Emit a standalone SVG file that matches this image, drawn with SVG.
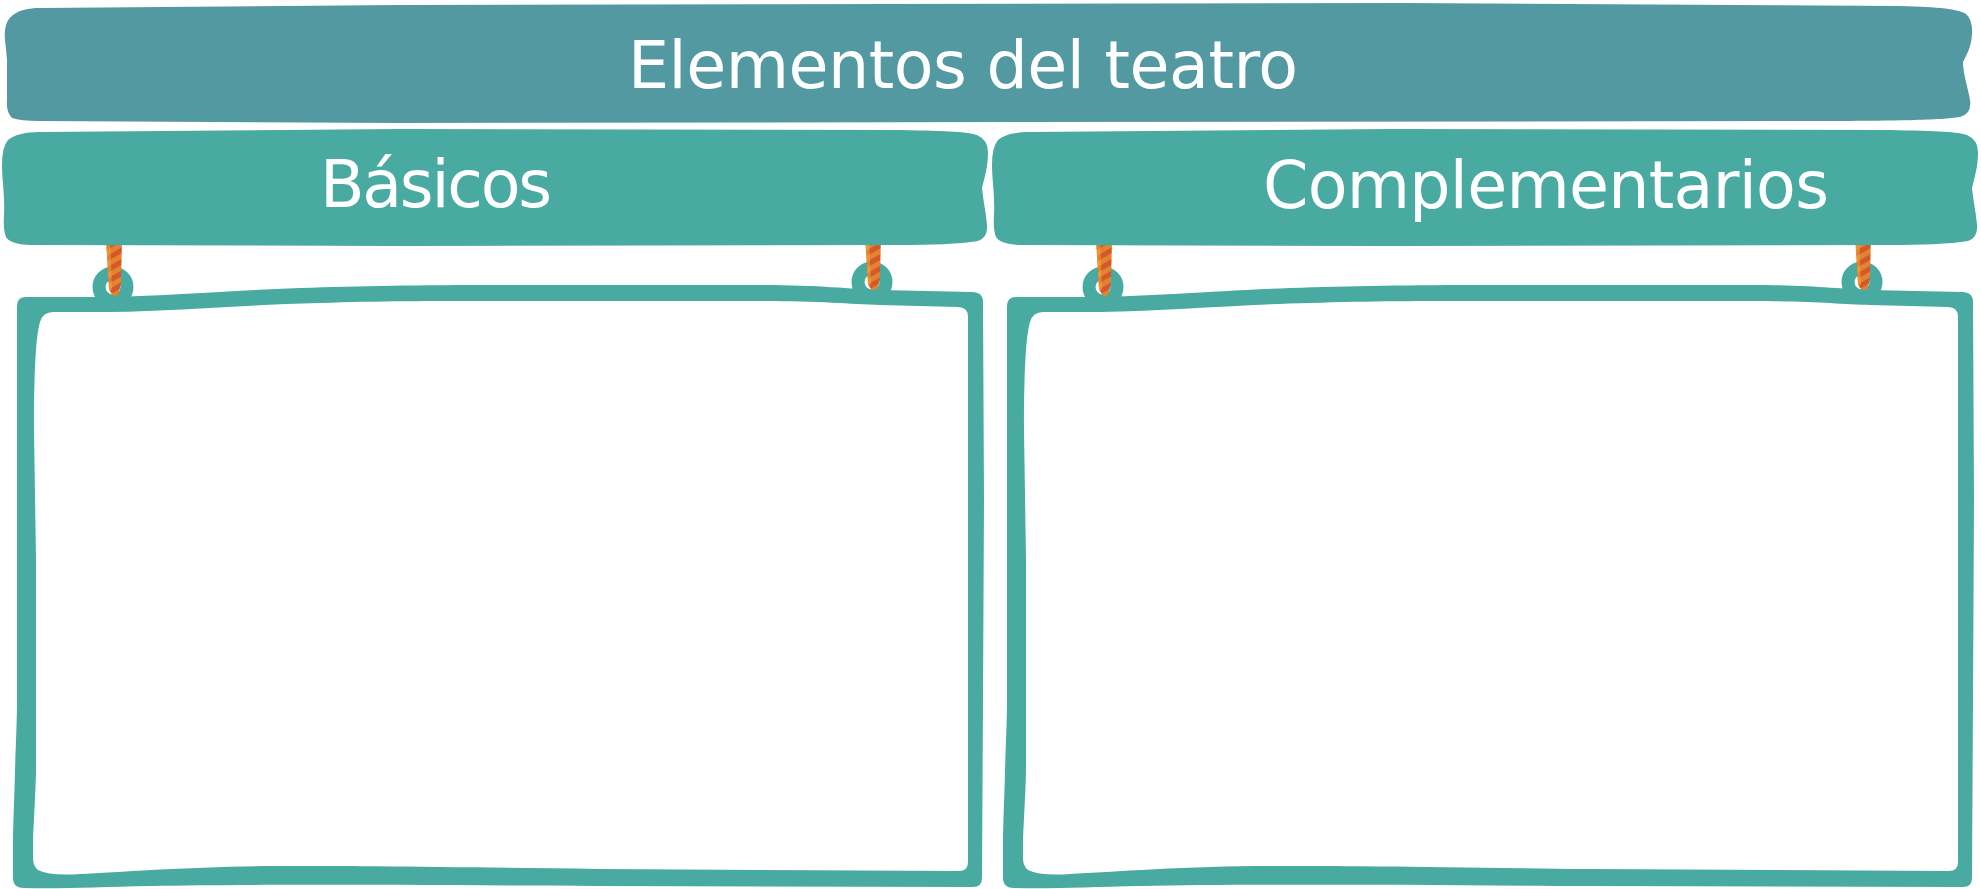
<svg xmlns="http://www.w3.org/2000/svg" width="1981" height="889" viewBox="0 0 1981 889">
  <style>
    .title-bg { fill: #5399A2; }
    .teal { fill: #48AAA0; }
    .inner { fill: #FFFFFF; }
    .label { fill: #FFFFFF; font-family: "DejaVu Sans", "Liberation Sans", sans-serif; font-size: 65px; text-anchor: middle; }
    .ring { fill: none; stroke: #48AAA0; stroke-width: 13; }
  </style>
  <defs>
    <pattern id="ropeStripes" patternUnits="userSpaceOnUse" width="30" height="10" patternTransform="rotate(-30)">
      <rect width="30" height="10" fill="#E3832F"/>
      <rect width="30" height="5" fill="#D5582C"/>
    </pattern>
    <path id="frameOuter" d="M 17 306 Q 17 297 26 297 L 100 297 C 170 296 220 291 300 288 C 360 286 420 285 500 285 L 760 285 C 820 285 850 289 880 290 L 972 292 Q 983 292 983 302 L 984 500 L 983 700 L 982 878 Q 982 887 973 887 L 600 886 C 400 885 250 884 150 886 C 100 887 60 889 24 888 Q 13 888 13 878 L 13 840 C 14 800 15 780 15 770 C 16 740 17 720 17 700 L 17 420 Z"/>
    <path id="frameInner" d="M 40 322 Q 43 312 53 312 L 110 312 C 180 311 240 305 320 303 C 380 301 430 301 500 301 L 760 301 C 820 301 850 304 880 305 L 958 307 Q 968 307 968 317 L 968 862 Q 968 871 959 871 L 600 869 C 450 867 350 866 280 866 C 200 866 120 872 80 874 Q 50 876 38 870 Q 33 866 33 858 L 33 840 C 35 800 36 780 36 770 L 36 560 L 34 430 C 34 370 36 335 40 322 Z"/>
    <path id="subBanner" d="M 8 140 C 14 135 24 132 40 132 L 400 129 L 900 130 C 950 131 968 132 977 135 Q 988 140 988 152 C 988 166 985 176 982 188 C 983 200 986 212 987 225 Q 988 238 978 241 C 960 244 930 245 900 245 L 400 246 L 30 245 Q 10 244 6 237 Q 3 229 4 215 C 5 195 2 180 2 165 Q 2 147 8 140 Z"/>
    <g id="hanger">
      <circle class="ring" cx="0" cy="0" r="14"/>
      <path d="M -7 -47 L 9 -47 L 8 -4 Q 6 8 3 10 Q -1 9 -4 2 Z" fill="url(#ropeStripes)"/>
      <path d="M -7 -47 L -3 -47 L -1 2 Q -3 6 -4 2 Z" fill="#F0A936" opacity="0.55"/>
    </g>
  </defs>

  <rect x="0" y="0" width="1981" height="889" fill="#FFFFFF"/>

  <g id="title-banner">
    <path class="title-bg" d="M 13 15 C 20 10 28 8 40 8 L 400 5 L 1400 3 L 1900 6 C 1940 7 1958 9 1966 14 Q 1973 20 1972 35 C 1971 48 1966 56 1963 62 C 1963 74 1968 88 1970 100 Q 1972 114 1960 117 C 1940 120 1900 121 1800 121 L 400 123 L 40 121 Q 20 121 12 118 Q 6 112 7 100 L 7 60 C 6 45 4 38 5 30 Q 6 20 13 15 Z"/>
    <text class="label" x="963" y="88" textLength="670" lengthAdjust="spacing">Elementos del teatro</text>
  </g>

  <g id="connectors">
    <use href="#hanger" x="113" y="287"/>
    <use href="#hanger" x="872" y="282"/>
    <use href="#hanger" x="1103" y="287"/>
    <use href="#hanger" x="1862" y="282"/>
  </g>

  <g id="basicos-banner">
    <use href="#subBanner" class="teal"/>
    <text class="label" x="436" y="207" textLength="232" lengthAdjust="spacing">Básicos</text>
  </g>

  <g id="complementarios-banner">
    <use href="#subBanner" class="teal" x="990"/>
    <text class="label" x="1546" y="208" textLength="566" lengthAdjust="spacing">Complementarios</text>
  </g>

  <g id="basicos-frame">
    <use href="#frameOuter" class="teal"/>
    <use href="#frameInner" class="inner"/>
  </g>

  <g id="complementarios-frame">
    <use href="#frameOuter" class="teal" x="990"/>
    <use href="#frameInner" class="inner" x="990"/>
  </g>
</svg>
